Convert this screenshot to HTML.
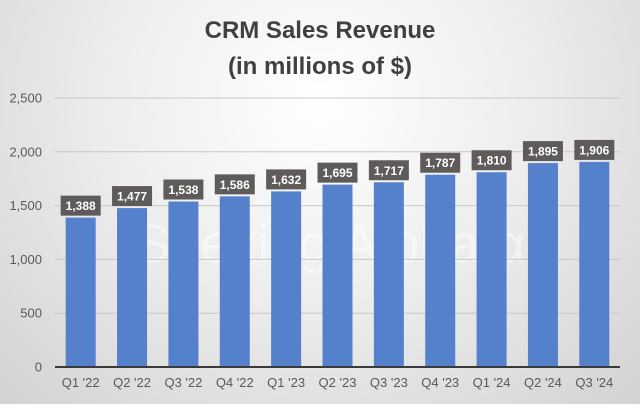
<!DOCTYPE html>
<html><head><meta charset="utf-8"><style>
html,body{margin:0;padding:0}
body{width:640px;height:404px;overflow:hidden;font-family:"Liberation Sans",sans-serif}
#chart{position:absolute;left:0;top:0;width:640px;height:404px;background:radial-gradient(ellipse at 50% 25%,#ffffff 0%,#eeeeee 45%,#d2d2d2 100%)}
</style></head><body>
<div id="chart">
<svg id="svg" width="640" height="404">
<text x="320" y="38" text-anchor="middle" font-size="24" font-weight="bold" fill="#404040">CRM Sales Revenue</text>
<text x="320" y="74" text-anchor="middle" font-size="24" font-weight="bold" fill="#404040">(in millions of $)</text>
<text x="330" y="262" text-anchor="middle" font-size="54" fill="#ffffff" opacity="0.45">Seeking Alpha α</text>
</svg>
</div>
<script>
const categories=["Q1 '22","Q2 '22","Q3 '22","Q4 '22","Q1 '23","Q2 '23","Q3 '23","Q4 '23","Q1 '24","Q2 '24","Q3 '24"];
const revenue=[1388,1477,1538,1586,1632,1695,1717,1787,1810,1895,1906];
const labels=["1,388","1,477","1,538","1,586","1,632","1,695","1,717","1,787","1,810","1,895","1,906"];
const yTicks=[0,500,1000,1500,2000,2500];
const yTickLabels=["0","500","1,000","1,500","2,000","2,500"];
const NS="http://www.w3.org/2000/svg";
const svg=document.getElementById('svg');
const L=55,R=620,Y0=367,Ytop=98,YMAX=2500;
const y=v=>Y0-(v/YMAX)*(Y0-Ytop);
const step=(R-L)/categories.length;
const x=i=>L+step*(i+0.5);
function mk(t,a){const e=document.createElementNS(NS,t);for(const k in a)e.setAttribute(k,a[k]);svg.appendChild(e);return e;}
yTicks.forEach((v,i)=>{
 if(v>0){const g=mk('line',{x1:L,x2:R,y1:y(v),y2:y(v),stroke:'#c8c8c8','stroke-width':1});
 
 }
 const t=mk('text',{x:42,y:y(v)+4.5,'text-anchor':'end','font-size':13,fill:'#595959'});
 t.textContent=yTickLabels[i];
 
 
});
const bw=30;
revenue.forEach((v,i)=>{
 const b=mk('rect',{x:x(i)-bw/2,y:y(v),width:bw,height:Y0-y(v),fill:'#5580cc'});
 
 
 const bx=mk('rect',{x:x(i)-20,y:y(v)-22,width:40,height:20,fill:'#5f5b5b'});
 
 
 const t=mk('text',{x:x(i),y:y(v)-7.5,'text-anchor':'middle','font-size':12,'font-weight':'bold',fill:'#ffffff'});
 t.textContent=labels[i];
 
 
 const c=mk('text',{x:x(i),y:387,'text-anchor':'middle','font-size':13,fill:'#595959'});
 c.textContent=categories[i];
 
 
});
const ax=mk('line',{x1:L,x2:R,y1:Y0,y2:Y0,stroke:'#3a3a3a','stroke-width':2});


</script>
</body></html>
